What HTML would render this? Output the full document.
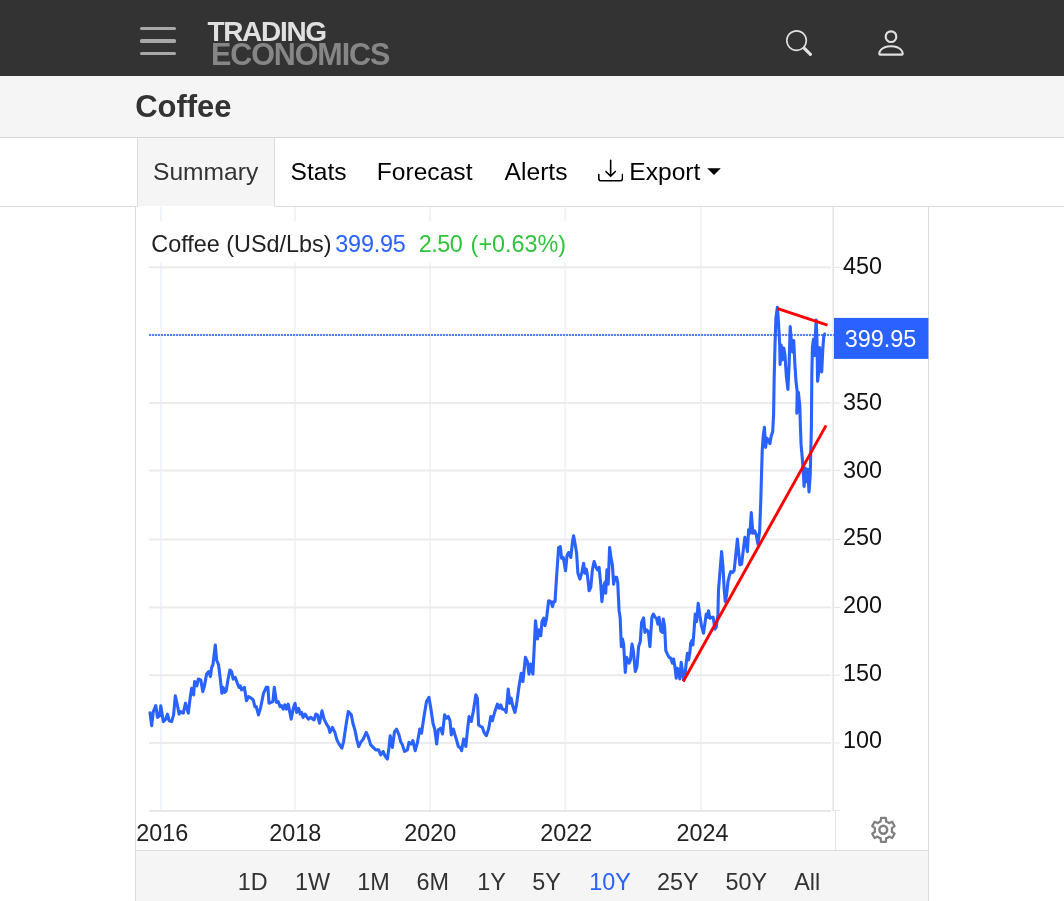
<!DOCTYPE html>
<html lang="en">
<head>
<meta charset="utf-8">
<title>Coffee - Price - Chart - Historical Data</title>
<style>
*{box-sizing:border-box;margin:0;padding:0}
html,body{width:1064px;height:901px;overflow:hidden;background:#fff;font-family:"Liberation Sans",Arial,sans-serif;color:#333}
.abs{position:absolute}
#hdr{position:absolute;left:0;top:0;width:1064px;height:76px;background:#333}
#burger{position:absolute;left:139.7px;top:27px;width:36.7px;height:30px}
#burger i{position:absolute;left:0;width:36.7px;height:3.2px;background:#a8a8a8;border-radius:1.6px}
#logo1{position:absolute;left:207.4px;top:17.6px;font-weight:bold;font-size:28px;line-height:28px;color:#e0e0e0;letter-spacing:-1.3px;white-space:nowrap}
#logo2{position:absolute;left:211px;top:37.9px;font-weight:bold;font-size:30.5px;line-height:32px;color:#868686;letter-spacing:-1.1px;white-space:nowrap}
#titlebar{position:absolute;left:0;top:76px;width:1064px;height:62px;background:#f5f5f5;border-bottom:1px solid #d6d6d6}
#title{position:absolute;left:135.2px;top:90.2px;font-weight:bold;font-size:31px;line-height:34px;color:#333;letter-spacing:-0.05px;white-space:nowrap}
#tabs{position:absolute;left:0;top:138px;width:1064px;height:69px;background:#fff;border-bottom:1px solid #ddd}
#tab-sum{position:absolute;left:137px;top:138px;width:138px;height:69px;border-bottom:1px solid #fff;background:#f5f5f5;border-left:1px solid #ddd;border-right:1px solid #ddd}
.tab{position:absolute;top:156.6px;font-size:24.6px;line-height:30px;color:#000;white-space:nowrap}
#chartbox{position:absolute;left:135px;top:207px;width:794px;height:700px;border-left:1px solid #ddd;border-right:1px solid #ddd;background:#fff}
#rangebar{position:absolute;left:136px;top:850px;width:792px;height:60px;background:#f5f5f5;border-top:1px solid #ddd}
.rg{position:absolute;top:867.7px;width:80px;text-align:center;font-size:23.4px;line-height:28px;color:#333;white-space:nowrap}
.ax{position:absolute;font-size:23.4px;line-height:30px;color:#111;white-space:nowrap}
.tx{width:80px;text-align:center;color:#222}
.lg{position:absolute;font-size:23.4px;line-height:28px;white-space:pre}
</style>
</head>
<body>
<div id="hdr"></div>
<div id="burger"><i style="top:0"></i><i style="top:12.4px"></i><i style="top:24.8px"></i></div>
<div id="logo1">TRADING</div>
<div id="logo2">ECONOMICS</div>
<svg class="abs" style="left:785.7px;top:30px" width="26" height="26" viewBox="0 0 16 16" fill="#e0e0e0"><path d="M11.742 10.344a6.5 6.5 0 1 0-1.397 1.398h-.001q.044.06.098.115l3.85 3.85a1 1 0 0 0 1.415-1.414l-3.85-3.85a1 1 0 0 0-.115-.1zM12 6.5a5.5 5.5 0 1 1-11 0 5.5 5.5 0 0 1 11 0"/></svg>
<svg class="abs" style="left:873.7px;top:26px" width="34" height="34" viewBox="0 0 16 16" fill="#e0e0e0"><path d="M8 8a3 3 0 1 0 0-6 3 3 0 0 0 0 6m2-3a2 2 0 1 1-4 0 2 2 0 0 1 4 0m4 8c0 1-1 1-1 1H3s-1 0-1-1 1-4 6-4 6 3 6 4m-1-.004c-.001-.246-.154-.986-.832-1.664C11.516 10.68 10.289 10 8 10s-3.516.68-4.168 1.332c-.678.678-.83 1.418-.832 1.664z"/></svg>
<div id="titlebar"></div>
<div id="title">Coffee</div>
<div id="tabs"></div>
<div id="tab-sum"></div>
<div class="tab" id="t1" style="left:153px;color:#333">Summary</div>
<div class="tab" id="t2" style="left:290.5px">Stats</div>
<div class="tab" id="t3" style="left:376.8px">Forecast</div>
<div class="tab" id="t4" style="left:504.6px">Alerts</div>
<svg class="abs" style="left:597.6px;top:158px" width="25.3" height="25.3" viewBox="0 0 16 16" fill="#000"><path d="M.5 9.9a.5.5 0 0 1 .5.5v2.5a1 1 0 0 0 1 1h12a1 1 0 0 0 1-1v-2.5a.5.5 0 0 1 1 0v2.5a2 2 0 0 1-2 2H2a2 2 0 0 1-2-2v-2.5a.5.5 0 0 1 .5-.5"/><path d="M7.646 11.854a.5.5 0 0 0 .708 0l3-3a.5.5 0 0 0-.708-.708L8.5 10.293V1.5a.5.5 0 0 0-1 0v8.793L5.354 8.146a.5.5 0 1 0-.708.708z"/></svg>
<div class="tab" id="t5" style="left:629.3px">Export</div>
<svg class="abs" style="left:706px;top:167px" width="16" height="10" viewBox="0 0 16 10"><path d="M1.2 1.2H14.8L8 8z" fill="#000"/></svg>
<div id="chartbox"></div>
<svg class="abs" style="left:0;top:0" width="1064" height="901" viewBox="0 0 1064 901">
<rect x="160" y="207" width="2" height="603" fill="#f0f4f8"/>
<rect x="294" y="207" width="2" height="603" fill="#f0f4f8"/>
<rect x="429" y="207" width="2" height="603" fill="#f0f4f8"/>
<rect x="564.3" y="207" width="2" height="603" fill="#f0f4f8"/>
<rect x="700" y="207" width="2" height="603" fill="#f0f4f8"/>
<rect x="149" y="266.3" width="682" height="2" fill="#ebebeb"/>
<rect x="149" y="334.0" width="682" height="2" fill="#ebebeb"/>
<rect x="149" y="402.0" width="682" height="2" fill="#ebebeb"/>
<rect x="149" y="469.5" width="682" height="2" fill="#ebebeb"/>
<rect x="149" y="538.5" width="682" height="2" fill="#ebebeb"/>
<rect x="149" y="606.4" width="682" height="2" fill="#ebebeb"/>
<rect x="149" y="674.2" width="682" height="2" fill="#ebebeb"/>
<rect x="149" y="741.9" width="682" height="2" fill="#ebebeb"/>
<rect x="149" y="221" width="420" height="41.6" fill="#fff"/>
<rect x="832.4" y="207" width="1.5" height="604" fill="#e4e4e4"/>
<rect x="833.9" y="266.8" width="6" height="1" fill="#e4e4e4"/>
<rect x="833.9" y="334.5" width="6" height="1" fill="#e4e4e4"/>
<rect x="833.9" y="402.5" width="6" height="1" fill="#e4e4e4"/>
<rect x="833.9" y="470.0" width="6" height="1" fill="#e4e4e4"/>
<rect x="833.9" y="539.0" width="6" height="1" fill="#e4e4e4"/>
<rect x="833.9" y="606.9" width="6" height="1" fill="#e4e4e4"/>
<rect x="833.9" y="674.7" width="6" height="1" fill="#e4e4e4"/>
<rect x="833.9" y="742.4" width="6" height="1" fill="#e4e4e4"/>
<rect x="149" y="810" width="682" height="2" fill="#e8e8e8"/>
<rect x="833.9" y="810" width="6" height="1" fill="#e4e4e4"/>
<rect x="835" y="811" width="1" height="39" fill="#e4e4e4"/>
<line x1="149" y1="335" x2="834" y2="335" stroke="#2962ff" stroke-opacity="0.78" stroke-width="2" stroke-dasharray="2 1"/>
<path d="M150.0 712.7 L151.7 725.7 L153.3 711.6 L155.8 705.7 L157.5 717.4 L159.6 715.7 L160.8 705.7 L163.3 721.6 L165.8 719.1 L167.5 714.1 L169.1 720.7 L171.6 721.6 L173.6 714.9 L175.3 695.8 L177.5 705.7 L179.1 714.1 L180.8 711.6 L183.3 713.2 L185.5 703.2 L188.3 713.2 L189.9 699.9 L191.6 688.3 L193.6 694.9 L194.6 681.6 L196.9 685.8 L198.3 679.1 L200.8 679.9 L202.8 691.6 L204.1 687.4 L206.6 674.1 L208.8 671.6 L210.4 676.6 L211.6 667.5 L212.9 665.0 L215.3 645.0 L216.6 660.0 L218.6 665.0 L220.2 678.3 L221.9 693.3 L223.2 687.4 L224.6 692.4 L226.2 690.8 L228.2 678.3 L229.9 670.0 L231.6 671.6 L233.2 679.1 L235.2 677.4 L237.4 683.3 L239.1 687.4 L240.2 685.8 L241.6 689.9 L244.4 687.4 L246.5 700.8 L248.5 696.6 L251.5 698.3 L253.2 699.9 L254.9 706.6 L256.2 706.6 L258.5 714.9 L260.7 707.4 L263.5 693.3 L266.2 687.4 L267.9 687.4 L269.0 703.2 L271.2 702.4 L272.9 701.6 L274.3 687.4 L276.5 702.4 L278.2 701.6 L280.2 706.6 L281.5 705.7 L283.2 709.1 L284.8 704.9 L286.5 709.1 L288.2 704.1 L291.2 719.1 L293.3 708.3 L295.0 703.3 L296.7 712.4 L298.7 708.3 L300.3 714.1 L301.6 712.4 L303.0 717.4 L305.0 714.1 L308.3 719.1 L310.8 717.4 L314.1 719.9 L315.8 714.1 L317.5 714.9 L319.5 723.2 L322.0 710.8 L324.1 719.1 L326.6 724.1 L328.6 727.4 L329.9 732.4 L332.4 727.4 L334.9 732.4 L336.9 739.9 L339.1 744.1 L341.9 748.2 L343.6 741.6 L346.3 723.2 L348.3 711.6 L351.3 714.9 L352.9 723.2 L354.9 729.9 L356.9 739.9 L358.7 746.6 L360.7 742.4 L363.2 739.1 L366.2 732.4 L368.2 736.6 L370.7 744.9 L373.2 747.4 L375.7 749.9 L378.6 749.9 L380.7 754.9 L383.2 751.5 L384.9 755.7 L387.4 759.0 L389.0 747.4 L390.2 735.7 L392.4 747.4 L394.5 731.6 L396.5 729.1 L399.0 734.9 L400.7 741.6 L402.4 744.9 L404.5 751.5 L407.4 749.9 L409.0 742.4 L411.2 744.1 L412.9 740.7 L415.2 750.7 L417.3 743.2 L419.8 729.1 L421.5 733.2 L424.0 716.6 L426.5 701.6 L429.0 697.4 L430.8 708.2 L433.0 723.2 L434.7 729.0 L436.7 744.0 L438.3 729.9 L440.8 728.2 L442.5 734.0 L444.6 714.9 L446.6 718.2 L448.3 716.5 L450.0 720.7 L451.3 734.9 L453.3 729.0 L455.0 734.9 L457.0 741.5 L458.3 746.5 L460.0 747.3 L461.6 750.7 L463.6 739.0 L465.8 746.5 L467.5 729.9 L469.1 716.5 L471.3 721.5 L473.3 711.5 L475.8 694.9 L477.4 698.2 L478.6 724.9 L480.8 726.5 L482.4 727.4 L484.1 732.4 L486.3 735.7 L488.6 729.0 L490.8 716.5 L492.4 720.7 L494.6 712.4 L497.4 704.1 L499.1 708.2 L500.7 704.9 L502.4 709.1 L504.9 709.9 L506.1 712.4 L508.2 689.1 L509.9 703.2 L511.2 698.2 L512.9 706.6 L514.9 712.4 L516.6 704.1 L519.1 685.7 L521.2 673.3 L522.9 681.6 L525.4 657.4 L527.4 661.6 L529.0 674.1 L530.7 664.1 L532.9 674.1 L534.0 651.6 L535.5 620.7 L537.5 639.0 L539.2 629.9 L540.8 635.7 L542.0 621.5 L543.7 618.2 L545.0 625.7 L546.6 618.2 L548.6 600.7 L550.8 601.6 L552.5 606.6 L553.6 601.6 L555.0 601.6 L556.6 576.6 L558.6 547.5 L560.3 546.6 L561.6 558.3 L563.3 557.5 L565.5 570.8 L567.0 555.8 L568.6 552.5 L570.8 557.5 L572.5 541.6 L573.6 535.8 L575.3 545.0 L576.6 553.3 L577.9 573.3 L579.9 579.1 L581.9 572.4 L583.6 563.3 L584.9 573.3 L586.3 569.1 L587.4 574.9 L589.1 590.8 L590.8 587.4 L592.4 569.9 L594.1 561.6 L595.8 566.6 L597.4 569.9 L599.1 567.4 L600.8 584.9 L601.9 601.6 L603.6 586.6 L604.9 582.4 L605.7 593.2 L606.9 569.9 L608.2 584.1 L609.6 547.5 L611.2 559.1 L612.4 564.9 L613.6 584.1 L614.9 577.4 L616.6 577.4 L617.7 582.4 L619.1 610.7 L620.2 618.2 L621.3 646.6 L622.5 639.1 L623.6 644.1 L625.3 672.4 L626.6 657.4 L628.0 659.9 L629.1 663.2 L630.5 659.9 L632.0 644.1 L633.3 650.7 L635.3 671.5 L637.0 666.5 L638.6 646.6 L640.3 641.6 L641.6 622.4 L643.6 617.9 L644.9 632.4 L646.6 629.9 L648.3 631.6 L649.9 646.6 L651.9 617.4 L653.3 614.1 L655.3 617.4 L656.6 618.3 L657.9 624.1 L659.1 617.4 L660.8 630.8 L662.4 632.4 L663.3 619.1 L664.6 626.6 L665.8 650.7 L667.4 654.1 L669.1 657.4 L670.8 658.2 L672.4 663.2 L673.6 659.1 L674.9 666.5 L676.2 678.2 L677.4 668.2 L678.6 670.7 L679.9 679.0 L681.2 662.4 L682.4 670.7 L683.7 679.9 L684.9 676.5 L686.2 663.2 L687.4 653.2 L688.6 659.9 L689.9 652.4 L690.7 643.2 L691.9 640.7 L692.9 644.9 L694.1 629.9 L695.2 614.1 L696.6 621.6 L698.2 603.3 L699.9 615.8 L701.5 625.8 L703.5 633.2 L705.2 621.6 L706.2 614.1 L707.4 617.4 L708.5 610.8 L709.9 618.3 L711.5 617.4 L713.2 617.4 L714.9 629.1 L716.2 627.4 L717.9 614.9 L718.5 590.0 L721.6 551.6 L723.0 566.6 L724.1 588.2 L725.3 601.5 L726.6 594.9 L728.0 581.5 L729.6 574.9 L730.8 571.6 L732.5 572.4 L734.1 570.7 L735.8 554.9 L737.4 539.1 L738.6 551.6 L739.9 564.9 L741.6 564.1 L743.3 549.9 L744.9 537.4 L746.3 543.3 L747.4 551.6 L748.6 529.9 L749.9 533.3 L751.3 512.5 L752.9 533.3 L754.6 530.8 L756.3 534.9 L757.9 544.1 L759.6 531.6 L760.8 500.0 L762.2 451.1 L763.2 436.4 L764.4 427.2 L765.6 447.4 L766.9 438.2 L768.3 440.1 L769.9 443.7 L771.1 436.4 L772.7 431.5 L773.6 414.4 L774.2 376.6 L775.1 341.6 L775.9 318.3 L777.4 307.2 L778.6 324.1 L779.7 345.1 L780.1 364.4 L781.2 345.1 L782.4 359.7 L783.8 348.0 L785.0 355.6 L786.4 376.6 L787.9 389.4 L789.1 364.9 L790.2 326.5 L791.4 341.6 L792.6 352.1 L793.7 340.5 L794.9 364.9 L796.0 381.3 L797.2 391.8 L796.8 413.2 L798.4 392.4 L799.8 405.9 L800.4 426.6 L801.1 444.9 L802.3 458.4 L803.5 475.5 L804.1 486.5 L805.3 468.1 L806.5 481.6 L807.8 469.4 L809.0 492.0 L810.2 475.5 L810.8 451.1 L811.4 426.6 L811.8 376.6 L812.4 347.5 L813.5 339.3 L814.4 355.6 L815.1 339.3 L816.2 320.1 L817.0 341.6 L817.6 381.3 L818.8 370.8 L819.6 347.5 L820.5 360.3 L821.7 371.9 L822.9 347.5 L823.7 337.0 L824.6 334.1" fill="none" stroke="#2962ff" stroke-width="3.1" stroke-linejoin="round" stroke-linecap="round"/>
<line x1="683.2" y1="681.5" x2="826.1" y2="425.4" stroke="#ff0000" stroke-width="2.9"/>
<line x1="777" y1="308.4" x2="827.5" y2="325.1" stroke="#ff0000" stroke-width="2.9"/>
<rect x="834" y="317.9" width="94.4" height="41" fill="#2962ff"/>
<path transform="translate(883.4 0) scale(0.965 1) translate(-883.4 0)" d="M880.60 821.45L880.90 817.95L885.90 817.95L886.20 821.45A8.9 8.9 0 0 1 889.32 823.25L892.50 821.76L895.00 826.09L892.12 828.10A8.9 8.9 0 0 1 892.12 831.70L895.00 833.71L892.50 838.04L889.32 836.55A8.9 8.9 0 0 1 886.20 838.35L885.90 841.85L880.90 841.85L880.60 838.35A8.9 8.9 0 0 1 877.48 836.55L874.30 838.04L871.80 833.71L874.68 831.70A8.9 8.9 0 0 1 874.68 828.10L871.80 826.09L874.30 821.76L877.48 823.25A8.9 8.9 0 0 1 880.60 821.45Z" fill="none" stroke="#808080" stroke-width="2.3" stroke-linejoin="round"/>
<circle cx="883.3" cy="829.75" r="3.9" fill="none" stroke="#808080" stroke-width="2.5"/>
</svg>
<div class="ax" style="left:843px;top:251.0px">450</div>
<div class="ax" style="left:843px;top:387.3px">350</div>
<div class="ax" style="left:843px;top:455.2px">300</div>
<div class="ax" style="left:843px;top:522.2px">250</div>
<div class="ax" style="left:843px;top:590.2px">200</div>
<div class="ax" style="left:843px;top:657.6px">150</div>
<div class="ax" style="left:843px;top:725.1px">100</div>
<div class="ax" style="left:844.8px;top:323.9px;color:#fff">399.95</div>
<div class="ax tx" style="left:122.2px;top:817.8px">2016</div>
<div class="ax tx" style="left:255.3px;top:817.8px">2018</div>
<div class="ax tx" style="left:390.2px;top:817.8px">2020</div>
<div class="ax tx" style="left:526.2px;top:817.8px">2022</div>
<div class="ax tx" style="left:662.5px;top:817.8px">2024</div>
<div class="lg" style="left:151.3px;top:229.5px;color:#222">Coffee (USd/Lbs)</div>
<div class="lg" style="left:335.3px;top:229.5px;color:#2962ff;letter-spacing:-0.2px">399.95</div>
<div class="lg" style="left:418.8px;top:229.5px;color:#2fc53a;letter-spacing:-0.5px">2.50</div>
<div class="lg" style="left:470.6px;top:229.5px;color:#2fc53a">(+0.63%)</div>
<div id="rangebar"></div>
<div class="rg" style="left:212.6px">1D</div>
<div class="rg" style="left:272.5px">1W</div>
<div class="rg" style="left:333.4px">1M</div>
<div class="rg" style="left:392.7px">6M</div>
<div class="rg" style="left:451.6px">1Y</div>
<div class="rg" style="left:506.5px">5Y</div>
<div class="rg" style="left:570.0px;color:#2962ff">10Y</div>
<div class="rg" style="left:637.7px">25Y</div>
<div class="rg" style="left:706.4px">50Y</div>
<div class="rg" style="left:767.2px">All</div>
</body>
</html>
